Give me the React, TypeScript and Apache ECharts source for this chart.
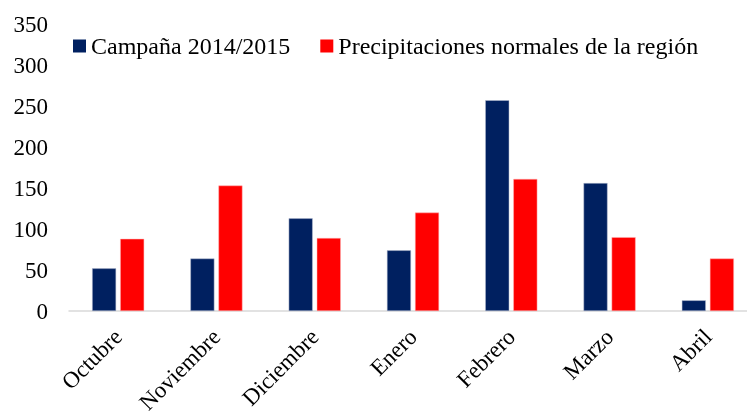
import React, { useEffect, useRef } from "react";
import * as echarts from "echarts";

const categories = ["Octubre", "Noviembre", "Diciembre", "Enero", "Febrero", "Marzo", "Abril"];
const campana = [52, 64, 113, 74, 257, 156, 13];
const normales = [88, 153, 89, 120, 161, 90, 64];
const seriesNames = ["Campaña 2014/2015", "Precipitaciones normales de la región"];

const FONT = "Liberation Serif";

export default function App() {
  const ref = useRef<HTMLDivElement>(null);
  useEffect(() => {
    if (!ref.current) return;
    const chart = echarts.init(ref.current, undefined, { renderer: "svg" });
    chart.setOption({
      animation: false,
      textStyle: { fontFamily: FONT },
      legend: {
        top: 34,
        left: 73,
        padding: 0,
        itemWidth: 13,
        itemHeight: 13,
        itemGap: 30,
        icon: "rect",
        itemStyle: { borderWidth: 0 },
        textStyle: { fontFamily: FONT, fontSize: 24, color: "#000" },
        data: seriesNames,
      },
      grid: { left: 69, right: -10, top: 24, bottom: 103, containLabel: false, outerBoundsMode: "none" },
      xAxis: {
        type: "category",
        data: categories,
        axisLine: { lineStyle: { color: "#d9d9d9", width: 1.5 } },
        axisTick: { show: false },
        axisLabel: { rotate: 45, fontFamily: FONT, fontSize: 23, color: "#000", margin: 22, interval: 0 },
      },
      yAxis: {
        type: "value",
        min: 0,
        max: 350,
        interval: 50,
        splitLine: { show: false },
        axisLine: { show: false },
        axisTick: { show: false },
        axisLabel: { fontFamily: FONT, fontSize: 23, color: "#000", margin: 21 },
      },
      series: [
        {
          name: seriesNames[0],
          type: "bar",
          data: campana,
          barWidth: 24,
          barGap: "17%",
          itemStyle: { color: "#002060", borderColor: "#b4bdd0", borderWidth: 0.5 },
        },
        {
          name: seriesNames[1],
          type: "bar",
          data: normales,
          barWidth: 24,
          itemStyle: { color: "#ff0000", borderColor: "#ffb0b0", borderWidth: 0.5 },
        },
      ],
    });
    return () => chart.dispose();
  }, []);
  return <div ref={ref} style={{ position: "fixed", left: 0, top: 0, width: 747, height: 414 }} />;
}
